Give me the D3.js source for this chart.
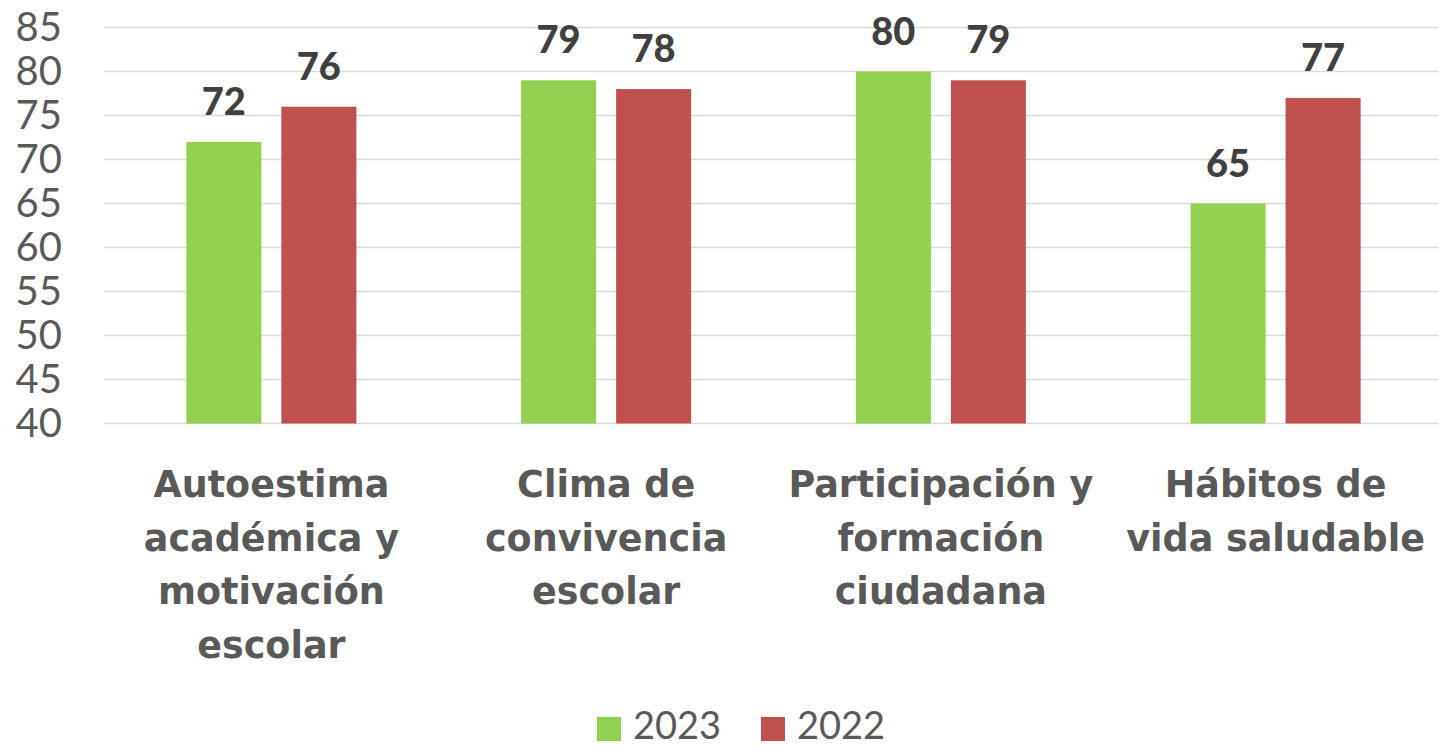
<!DOCTYPE html>
<html>
<head>
<meta charset="utf-8">
<script src="https://cdn.jsdelivr.net/npm/d3@7"></script>
<style>
  html, body { margin: 0; padding: 0; background: #fff; }
  .chart { width: 1439px; height: 747px; }
  text { font-family: Lato, "Open Sans", sans-serif; }
</style>
</head>
<body>
<div class="chart"></div>
<script>
// data
const categories = [
  "Autoestima académica y motivación escolar",
  "Clima de convivencia escolar",
  "Participación y formación ciudadana",
  "Hábitos de vida saludable"
];
const categoryLines = [
  ["Autoestima", "académica y", "motivación", "escolar"],
  ["Clima de", "convivencia", "escolar"],
  ["Participación y", "formación", "ciudadana"],
  ["Hábitos de", "vida saludable"]
];
const series = ["2023", "2022"];
const values2023 = [72, 79, 80, 65];
const values2022 = [76, 78, 79, 77];
const yTicks = [40, 45, 50, 55, 60, 65, 70, 75, 80, 85];
const colors = ["#92d050", "#c0504d"];

const W = 1439, H = 747;
const svg = d3.select(".chart").append("svg")
  .attr("width", W).attr("height", H);

// scales
const y = d3.scaleLinear().domain([40, 85]).range([423.5, 27.5]);
const x0 = d3.scaleBand().domain(categories).range([104, 1443]);
const x1 = d3.scaleBand().domain(series).range([0, x0.bandwidth()])
  .paddingInner(20 / 95).paddingOuter(0.867);

// gridlines
svg.append("g")
  .selectAll("line")
  .data(yTicks)
  .join("line")
  .attr("x1", 104).attr("x2", W)
  .attr("y1", d => y(d)).attr("y2", d => y(d))
  .attr("stroke", "#d9d9d9")
  .attr("stroke-width", 1.5);

// y axis labels
const yAxis = svg.append("g")
  .attr("transform", "translate(62,0)")
  .call(d3.axisLeft(y).tickValues(yTicks).tickSize(0).tickPadding(0));
yAxis.select(".domain").remove();
yAxis.selectAll("text")
  .attr("font-family", "Lato, sans-serif")
  .attr("font-size", 40)
  .attr("fill", "#595959");

// bars
const rows = categories.map((c, i) => ({ cat: c, vals: [values2023[i], values2022[i]] }));
const groups = svg.append("g")
  .selectAll("g")
  .data(rows)
  .join("g")
  .attr("transform", d => `translate(${x0(d.cat)},0)`);

groups.selectAll("rect")
  .data(d => d.vals.map((v, j) => ({ s: series[j], v: v, j: j })))
  .join("rect")
  .attr("x", d => x1(d.s))
  .attr("y", d => y(d.v))
  .attr("width", x1.bandwidth())
  .attr("height", d => y(40) - y(d.v))
  .attr("fill", d => colors[d.j]);

// value labels
groups.selectAll("text.val")
  .data(d => d.vals.map((v, j) => ({ s: series[j], v: v, j: j })))
  .join("text")
  .attr("class", "val")
  .attr("x", d => x1(d.s) + x1.bandwidth() / 2)
  .attr("y", d => y(d.v) - 27)
  .attr("text-anchor", "middle")
  .style("font-family", "Lato, sans-serif")
  .style("font-size", "38px")
  .style("font-weight", "900")
  .attr("fill", "#404040")
  .text(d => d.v);

// category labels (wide bold face, closer to the original)
const catLabels = svg.append("g")
  .selectAll("text")
  .data(categories)
  .join("text")
  .attr("x", d => x0(d) + x0.bandwidth() / 2)
  .attr("y", 497)
  .attr("text-anchor", "middle")
  .style("font-family", "'DejaVu Sans', sans-serif")
  .attr("font-size", 36.5)
  .attr("font-weight", "bold")
  .attr("fill", "#595959");

catLabels.selectAll("tspan")
  .data((d, i) => categoryLines[i])
  .join("tspan")
  .attr("x", function () { return this.parentNode.getAttribute("x"); })
  .attr("dy", (d, i) => i === 0 ? 0 : 53.5)
  .text(d => d);

// legend
const legendX = [597, 761];
const legend = svg.append("g")
  .selectAll("g")
  .data(series)
  .join("g")
  .attr("transform", (d, i) => `translate(${legendX[i]},717)`);
legend.append("rect")
  .attr("width", 24).attr("height", 24)
  .attr("fill", (d, i) => colors[i]);
legend.append("text")
  .attr("x", 36).attr("y", 22)
  .attr("font-size", 38)
  .attr("fill", "#595959")
  .text(d => d);
</script>
</body>
</html>
